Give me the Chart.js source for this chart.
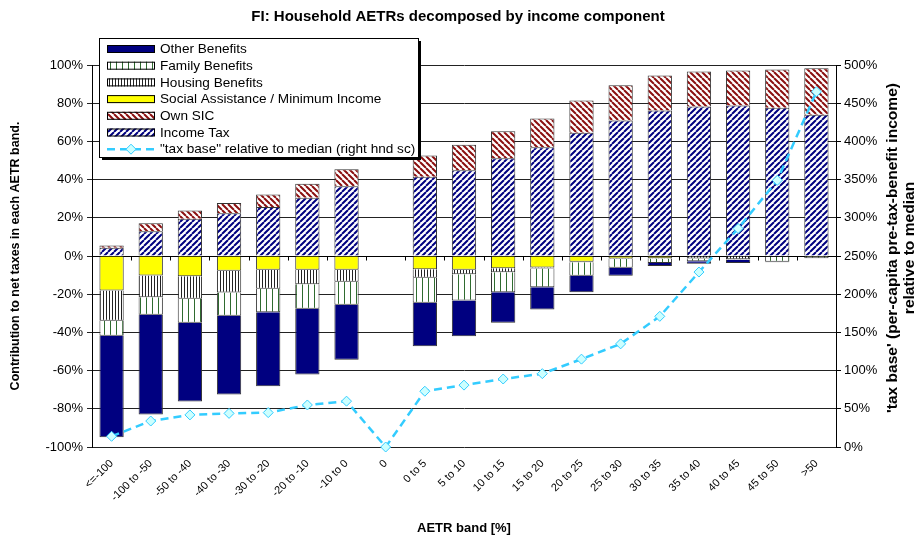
<!DOCTYPE html>
<html>
<head>
<meta charset="utf-8">
<script src="https://cdn.jsdelivr.net/npm/chart.js@4.4.1/dist/chart.umd.min.js"></script>
<style>
  html, body { margin: 0; padding: 0; background: #fff; }
</style>
</head>
<body>
<canvas id="aetrChart" width="916" height="543"></canvas>
<script>
// AETR bands (x axis)
const categories = ['<=-100', '-100 to -50', '-50 to -40', '-40 to -30', '-30 to -20', '-20 to -10', '-10 to 0', '0',
  '0 to 5', '5 to 10', '10 to 15', '15 to 20', '20 to 25', '25 to 30', '30 to 35', '35 to 40', '40 to 45', '45 to 50', '>50'];

// contributions to net taxes, % (left axis)
const incomeTax   = [4.3, 13.0, 19.5, 22.4, 25.6, 30.5, 36.5, null, 41.5, 44.9, 51.2, 57.0, 64.5, 70.9, 76.2, 78.3, 78.8, 77.6, 73.9];
const ownSIC      = [1.2, 4.2, 4.3, 5.4, 6.6, 7.3, 8.9, null, 11.1, 13.3, 14.1, 15.0, 16.9, 18.5, 18.3, 18.3, 18.3, 20.0, 24.4];
const socialAssist = [-18.1, -10.2, -10.6, -7.7, -7.2, -7.2, -7.2, null, -6.9, -7.2, -6.4, -6.0, -3.0, -1.3, -1.0, -0.3, -0.2, -0.2, -0.1];
const housingBen  = [-15.8, -11.4, -11.8, -11.4, -10.0, -7.6, -6.3, null, -4.5, -2.3, -2.1, -0.5, -0.3, -0.3, -0.3, -1.0, -1.5, -0.2, -0.1];
const familyBen   = [-7.9, -9.2, -12.6, -12.2, -12.2, -12.8, -12.0, null, -13.1, -13.8, -10.5, -9.8, -7.1, -4.6, -2.3, -1.4, -0.3, -2.6, -0.8];
const otherBen    = [-53.1, -52.2, -41.2, -41.2, -38.8, -34.4, -28.8, null, -22.7, -18.7, -16.0, -11.7, -8.6, -4.2, -1.7, -1.4, -1.6, -0.3, -0.2];

// "tax base" relative to median, % (right axis)
const taxBase = [14, 34, 42, 44, 45, 55, 60, 0, 73, 81, 89, 96, 115, 135, 171, 229, 286, 349, 465];

// tick labels
const leftTicks = [-100, -80, -60, -40, -20, 0, 20, 40, 60, 80, 100];
const rightTicks = [0, 50, 100, 150, 200, 250, 300, 350, 400, 450, 500];

const FONT = '"Liberation Sans", Arial, sans-serif';
const canvas = document.getElementById('aetrChart');
const ctx = canvas.getContext('2d');

// hatch fills like the Excel patterns
function makePattern(size, draw) {
    const tile = document.createElement('canvas');
    tile.width = size;
    tile.height = size;
    const g = tile.getContext('2d');
    g.fillStyle = '#fff';
    g.fillRect(0, 0, size, size);
    draw(g, size);
    return ctx.createPattern(tile, 'repeat');
}

const taxFill = makePattern(6, (g, s) => {
    g.strokeStyle = '#000080';
    g.lineWidth = 2;
    g.beginPath();
    for (let k = -s; k <= s; k += s) { g.moveTo(k, s); g.lineTo(k + s, 0); }
    g.stroke();
});
const sicFill = makePattern(6, (g, s) => {
    g.strokeStyle = '#8B1010';
    g.lineWidth = 2;
    g.beginPath();
    for (let k = -s; k <= s; k += s) { g.moveTo(k, 0); g.lineTo(k + s, s); }
    g.stroke();
});
const familyFill = makePattern(6, (g, s) => {
    g.fillStyle = '#2F6B2F';
    g.fillRect(2, 0, 1, s);
});
const housingFill = makePattern(3, (g, s) => {
    g.fillStyle = '#222';
    g.fillRect(1, 0, 1, s);
});

const legendItems = [
    { text: 'Other Benefits', fill: '#000080' },
    { text: 'Family Benefits', fill: familyFill },
    { text: 'Housing Benefits', fill: housingFill },
    { text: 'Social Assistance / Minimum Income', fill: '#FFFF00' },
    { text: 'Own SIC', fill: sicFill },
    { text: 'Income Tax', fill: taxFill },
    { text: '"tax base" relative to median (right hnd sc)', line: true }
];

// legend box drawn over the plot, top left
const boxLegend = {
    id: 'boxLegend',
    afterDraw(chart) {
        const c = chart.ctx;
        const x = 99, y = 38, w = 319, h = 119;
        c.save();
        c.fillStyle = '#000';
        c.fillRect(x + 3, y + 3, w, h);
        c.fillStyle = '#fff';
        c.fillRect(x, y, w, h);
        c.strokeStyle = '#000';
        c.lineWidth = 1;
        c.strokeRect(x + 0.5, y + 0.5, w, h);
        c.font = '13.6px ' + FONT;
        c.textBaseline = 'middle';
        legendItems.forEach((item, i) => {
            const cy = y + 11 + i * 16.7;
            if (item.line) {
                c.strokeStyle = '#33CCFF';
                c.lineWidth = 2.5;
                c.setLineDash([8, 5]);
                c.beginPath();
                c.moveTo(107, cy);
                c.lineTo(155, cy);
                c.stroke();
                c.setLineDash([]);
                c.fillStyle = '#CCFFFF';
                c.strokeStyle = '#33CCFF';
                c.lineWidth = 1;
                c.beginPath();
                c.moveTo(131, cy - 5); c.lineTo(136, cy); c.lineTo(131, cy + 5); c.lineTo(126, cy);
                c.closePath();
                c.fill();
                c.stroke();
            } else {
                c.fillStyle = item.fill;
                c.fillRect(107, cy - 4, 48, 8);
                c.strokeStyle = '#000';
                c.lineWidth = 1;
                c.strokeRect(107.5, cy - 3.5, 47, 7);
            }
            c.fillStyle = '#000';
            c.fillText(item.text, 160, cy + 0.5);
        });
        c.restore();
    }
};

// small category ticks on the zero line
const zeroTicks = {
    id: 'zeroTicks',
    beforeDatasetsDraw(chart) {
        const c = chart.ctx;
        const xs = chart.scales.x, ys = chart.scales.y;
        const y0 = Math.round(ys.getPixelForValue(0)) + 0.5;
        const step = xs.width / categories.length;
        c.save();
        c.strokeStyle = '#000';
        c.lineWidth = 1;
        c.beginPath();
        c.moveTo(xs.left, y0);
        c.lineTo(xs.right, y0);
        for (let i = 0; i <= categories.length; i++) {
            const px = Math.round(xs.left + i * step) + 0.5;
            c.moveTo(px, y0);
            c.lineTo(px, y0 + 4);
        }
        c.stroke();
        c.restore();
    }
};

// right axis title reads bottom to top, like the left one
const rightTitle = {
    id: 'rightTitle',
    afterDraw(chart) {
        const c = chart.ctx;
        const line1 = "'tax base' (per-capita pre-tax-benefit income)";
        c.save();
        c.font = 'bold 14px ' + FONT;
        const sx = 330 / c.measureText(line1).width;
        c.translate(893, 248);
        c.rotate(-Math.PI / 2);
        c.scale(sx, 1);
        c.fillStyle = '#000';
        c.textAlign = 'center';
        c.textBaseline = 'middle';
        c.fillText(line1, 0, 0);
        c.fillText('relative to median', 0, 17);
        c.restore();
    }
};

function barSet(label, data, fill) {
    return {
        label: label,
        data: data,
        backgroundColor: fill,
        borderColor: '#333',
        borderWidth: 1,
        stack: 'net',
        order: 1,
        categoryPercentage: 1,
        barPercentage: 0.62
    };
}

new Chart(ctx, {
    type: 'bar',
    data: {
        labels: categories,
        datasets: [
            barSet('Income Tax', incomeTax, taxFill),
            barSet('Own SIC', ownSIC, sicFill),
            barSet('Social Assistance / Minimum Income', socialAssist, '#FFFF00'),
            barSet('Housing Benefits', housingBen, housingFill),
            barSet('Family Benefits', familyBen, familyFill),
            barSet('Other Benefits', otherBen, '#000080'),
            {
                type: 'line',
                label: '"tax base" relative to median (right hnd sc)',
                data: taxBase,
                yAxisID: 'y2',
                order: 0,
                borderColor: '#33CCFF',
                borderWidth: 2.5,
                borderDash: [8, 5],
                tension: 0,
                pointStyle: 'rectRot',
                pointRadius: 5,
                pointBackgroundColor: '#CCFFFF',
                pointBorderColor: '#33CCFF',
                pointBorderWidth: 1,
                clip: false
            }
        ]
    },
    options: {
        responsive: false,
        animation: false,
        layout: { padding: 0 },
        plugins: {
            legend: { display: false },
            tooltip: { enabled: false },
            title: {
                display: true,
                text: 'FI: Household AETRs decomposed by income component',
                color: '#000',
                font: { family: FONT, size: 15, weight: 'bold' },
                padding: { top: 8, bottom: 39 }
            }
        },
        scales: {
            x: {
                stacked: true,
                grid: { display: false },
                border: { display: false },
                ticks: {
                    autoSkip: false,
                    minRotation: 45,
                    maxRotation: 45,
                    padding: 2,
                    color: '#000',
                    font: { family: FONT, size: 11 }
                },
                title: {
                    display: true,
                    text: 'AETR band [%]',
                    color: '#000',
                    font: { family: FONT, size: 13, weight: 'bold' },
                    padding: { top: 0, bottom: 7 }
                },
                afterFit(s) { s.height = 96; }
            },
            y: {
                stacked: true,
                min: -100,
                max: 100,
                afterBuildTicks(s) { s.ticks = leftTicks.map(v => ({ value: v })); },
                ticks: {
                    padding: 4,
                    color: '#000',
                    font: { family: FONT, size: 13 },
                    callback: v => v + '%'
                },
                grid: { color: '#222', tickLength: 5 },
                border: { color: '#000' },
                title: {
                    display: true,
                    text: 'Contribution to net taxes in each AETR band.',
                    color: '#000',
                    font: { family: FONT, size: 12.5, weight: 'bold' },
                    padding: { top: 8, bottom: 0 }
                },
                afterFit(s) { s.width = 92; }
            },
            y2: {
                position: 'right',
                min: 0,
                max: 500,
                afterBuildTicks(s) { s.ticks = rightTicks.map(v => ({ value: v })); },
                ticks: {
                    padding: 3,
                    color: '#000',
                    font: { family: FONT, size: 13 },
                    callback: v => v + '%'
                },
                grid: { drawOnChartArea: false, color: '#000', tickLength: 5 },
                border: { color: '#000' },
                afterFit(s) { s.width = 80; }
            }
        }
    },
    plugins: [zeroTicks, boxLegend, rightTitle]
});
</script>
</body>
</html>
